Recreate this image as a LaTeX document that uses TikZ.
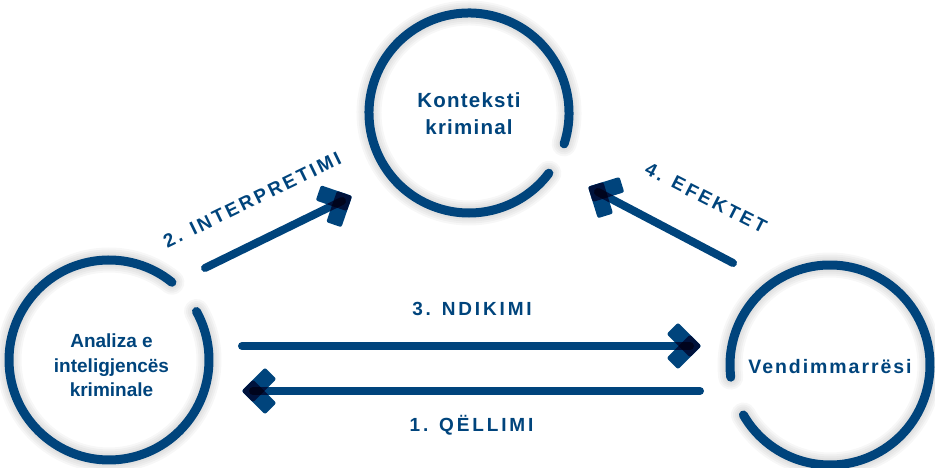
\documentclass[tikz,border=0pt]{standalone}
\usepackage{fontspec}
\setmainfont{Liberation Sans}
\newfontfamily\ringfont{Liberation Sans Bold}[LetterSpace=6]
\newfontfamily\plainfont{Liberation Sans Bold}
\newfontfamily\flowfont{Liberation Sans Bold}[LetterSpace=15]
\usetikzlibrary{calc}
\definecolor{navy}{RGB}{0,68,124}
\tikzset{
  ring/.style={draw=navy, line width=9pt, line cap=round},
  ringglow/.style={draw=black, line cap=round, opacity=0.03},
  shaft/.style={draw=navy, line width=8pt, line cap=round},
  headarm/.style={fill=navy, blend mode=multiply, rounded corners=2pt},
  boxtext/.style={text=navy, inner sep=0pt, align=center},
  flowlabel/.style={text=navy, inner sep=0pt,
    font=\flowfont\fontsize{19}{23}\selectfont}
}
% open ring: centre, radius, start angle, end angle
\newcommand\openring[4]{%
  \foreach \w in {13,17,21,25}
    \draw[ringglow, line width=\w pt] (#1) ++(#3:#2) arc[start angle=#3, end angle=#4, radius=#2];
  \draw[ring] (#1) ++(#3:#2) arc[start angle=#3, end angle=#4, radius=#2];}
% chevron head centred on a coordinate, pointing along an angle
\newcommand\chevronat[2]{%
  \begin{scope}[shift={(#1)}, rotate=#2]
    \fill[headarm, rotate=135] (-8,-8) rectangle (25,8);
    \fill[headarm, rotate=-135] (-8,-8) rectangle (25,8);
  \end{scope}}
\begin{document}
\begin{tikzpicture}[x=1pt, y=1pt]
\useasboundingbox (0,0) rectangle (935,468);

% ring centres
\coordinate (ctxC) at (469,355);
\coordinate (anaC) at (109,108);
\coordinate (decC) at (830,103);

\openring{ctxC}{100}{-18}{323}
\openring{anaC}{100}{51}{389}
\openring{decC}{100}{210}{547}

% ring captions
\node[boxtext, font=\ringfont\fontsize{20.5}{27}\selectfont] (ctx) at (469,354) {Konteksti\\kriminal};
\node[boxtext, font=\plainfont\fontsize{19}{24.5}\selectfont] (ana) at (111.5,102.5) {Analiza e\\inteligjencës\\kriminale};
\node[boxtext, anchor=base, font=\ringfont\fontsize{19.5}{24}\selectfont\addfontfeature{LetterSpace=10}] (dec) at (830,94) {Vendimmarrësi};

% arrow end points
\coordinate (s3) at (242,122);  \coordinate (e3) at (690,122);
\coordinate (s1) at (700,77);   \coordinate (e1) at (253,77);
\coordinate (s2) at (205,200);  \coordinate (e2) at (342,267);
\coordinate (s4) at (733,205);  \coordinate (e4) at (598,276);

\draw[shaft] (s3) -- (e3);
\draw[shaft] (s1) -- (e1);
\draw[shaft] (s2) -- (e2);
\draw[shaft] (s4) -- (e4);

\chevronat{e3}{0}
\chevronat{e1}{180}
\chevronat{e2}{26}
\chevronat{e4}{152.3}

% arrow labels
\node[flowlabel, anchor=base] (l3) at (472,152) {3. NDIKIMI};
\node[flowlabel, anchor=base] (l1) at (471.5,36) {1. QËLLIMI};
\node[flowlabel, rotate=26] (l2) at (252,268) {2. INTERPRETIMI};
\node[flowlabel, rotate=-27] (l4) at (706,270) {4. EFEKTET};
\end{tikzpicture}
\end{document}
